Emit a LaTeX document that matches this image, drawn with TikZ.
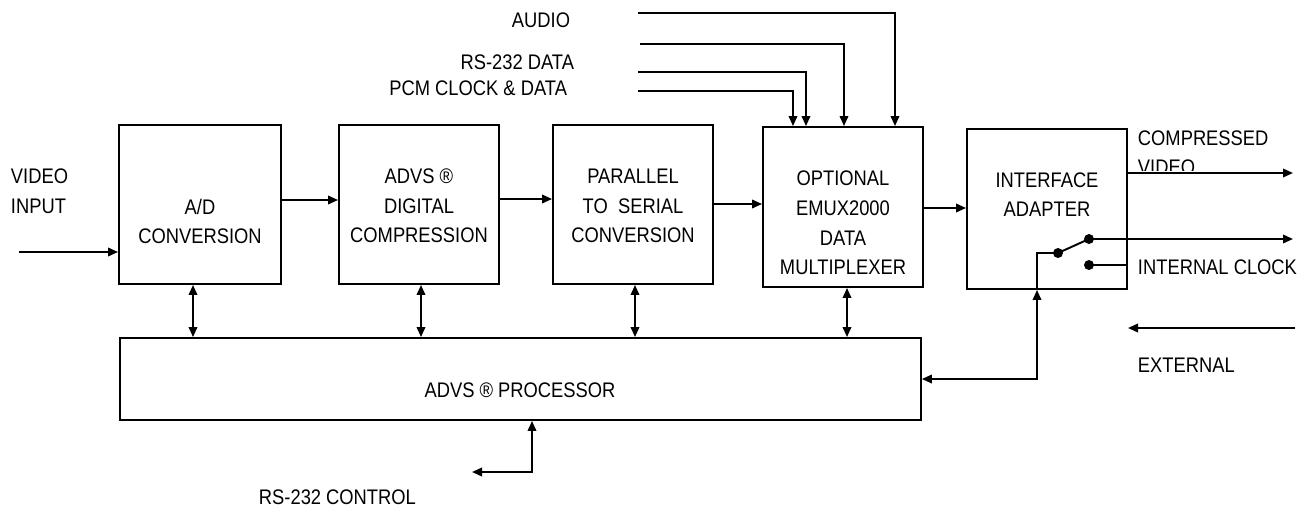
\documentclass[tikz,border=0pt]{standalone}
\usepackage{fontspec}
\setmainfont{Liberation Sans}[FakeStretch=0.87]
\usetikzlibrary{arrows.meta}
\begin{document}
\begin{tikzpicture}[x=0.02cm,y=-0.02cm,>={Triangle[length=2mm,width=1.7mm]},line width=1.1pt,font=\fontsize{12}{16.8}\selectfont]
\tikzset{blk/.style={draw,minimum width=3.2cm,minimum height=3.2cm},
	txt/.style={align=center,inner sep=0pt},
	lbl/.style={align=left,inner sep=0pt}}
\useasboundingbox (0,0) rectangle (1316,508);
% blocks
\node[blk,minimum width=3.24cm,minimum height=3.18cm] (ad) at (200,204.5) {};
\node[blk,minimum height=3.18cm] (advs) at (419,204.5) {};
\node[blk,minimum height=3.18cm] (par) at (633,204.5) {};
\node[blk] (mux) at (843,207) {};
\node[blk] (iface) at (1047,209) {};
\node[blk,minimum width=16.02cm,minimum height=1.64cm] (proc) at (520.5,379) {};
\node[txt] (adt) at (200,221.5) {A/D\\CONVERSION};
\node[txt] (advst) at (419,206) {ADVS \textregistered\\DIGITAL\\COMPRESSION};
\node[txt] (part) at (633,206) {PARALLEL\\TO\ \ SERIAL\\CONVERSION};
\node[txt] (muxt) at (843,223) {OPTIONAL\\EMUX2000\\DATA\\MULTIPLEXER};
\node[txt] (ifacet) at (1047,194.5) {INTERFACE\\ADAPTER};
\node[txt] (proct) at (520,390) {ADVS \textregistered\ PROCESSOR};
% labels
\node[lbl,anchor=west] (vid) at (10,191) {VIDEO\\INPUT};
\node[lbl,anchor=east] (aud) at (571,20) {AUDIO};
\node[lbl,anchor=east] (rsd) at (575,62) {RS-232 DATA};
\node[lbl,anchor=east] (pcm) at (568,88) {PCM CLOCK \& DATA};
\node[lbl,anchor=west] (cmp) at (1137,138) {COMPRESSED};
\begin{scope}
	\clip (1130,150) rectangle (1316,170);
	\node[lbl,anchor=west] (cvid) at (1137,167) {VIDEO};
\end{scope}
\node[lbl,anchor=west] (intc) at (1137,267) {INTERNAL CLOCK};
\node[lbl,anchor=west] (ext) at (1137,365) {EXTERNAL};
\node[lbl,anchor=west] (rsc) at (258,497) {RS-232 CONTROL};
% data path
\coordinate (vin) at (19,252);
\draw[->] (vin) -- (vin -| ad.west);
\draw[->] (ad.east |- 0,200) -- (advs.west |- 0,200);
\draw[->] (advs.east |- 0,199) -- (par.west |- 0,199);
\draw[->] (par.east |- 0,204) -- (mux.west |- 0,204);
\draw[->] (mux.east |- 0,208) -- (iface.west |- 0,208);
% processor links
\foreach \n/\x in {ad/193,advs/421,par/635,mux/847}
	\draw[<->] (\x,0 |- \n.south) -- (\x,0 |- proc.north);
% mux inputs
\coordinate (ain) at (638,13); \coordinate (rin) at (640,44);
\coordinate (cin) at (638,72); \coordinate (pin) at (638,91);
\foreach \s/\x in {ain/895,rin/844,cin/806,pin/793}
	\draw[->] (\s) -| (\x,0 |- mux.north);
% outputs and switch
\coordinate (cvo) at (1293,173);
\draw[->] (cvo -| iface.east) -- (cvo);
\coordinate (piv) at (1058,253); \coordinate (sw1) at (1089,239);
\coordinate (sw2) at (1089,265); \coordinate (swo) at (1293,239);
\draw (piv) -- (sw1);
\draw[->] (sw1) -- (swo);
\draw (sw2) -- (sw2 -| iface.east);
\foreach \p in {piv,sw1,sw2} \fill (\p) circle (0.1cm);
\draw[<->] (proc.east) -| (1037,0 |- iface.south);
\draw (1037,0 |- iface.south) -- (1037,253) -- (piv);
% external clock
\coordinate (exa) at (1295,328); \coordinate (exb) at (1128,328);
\draw[->] (exa) -- (exb);
% RS-232 control
\coordinate (rso) at (472,472);
\draw[<->] (rso) -| (532,0 |- proc.south);
\end{tikzpicture}
\end{document}
